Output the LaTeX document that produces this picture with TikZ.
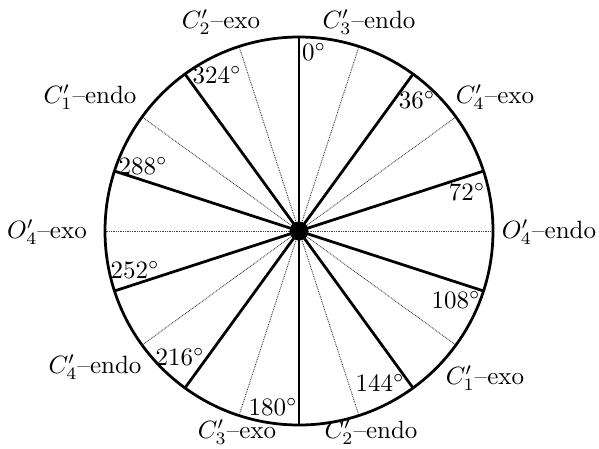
\documentclass[tikz,border=0pt]{standalone}
\begin{document}
\begin{tikzpicture}[x=0.4pt,y=0.4pt,
  spoke/.style={line width=1.1pt},
  rim/.style={line width=1.1pt},
  guide/.style={line width=0.35pt, dash pattern=on 0.35pt off 0.35pt, black!75},
  hub/.style={circle, fill=black, inner sep=0pt, minimum size=7.6pt},
  deg/.style={inner sep=0pt},
  conf/.style={inner sep=0pt}]
\useasboundingbox (-299,-217) rectangle (300,231);
\coordinate (O) at (0,0);
\foreach \a in {18,54,...,342} {
  \coordinate (g\a) at (90-\a:194);
  \draw[guide] (O) -- (g\a);
}
\foreach \a in {0,36,...,324} {
  \coordinate (s\a) at (90-\a:194);
  \draw[spoke] (O) -- (s\a);
}
\draw[rim] (O) circle (194);
\node[hub] (c) at (O) {};
% angle labels
\node[deg] (d0)   at (15,179)   {$0^\circ$};
\node[deg] (d36)  at (118,131)  {$36^\circ$};
\node[deg] (d72)  at (168,39)   {$72^\circ$};
\node[deg] (d108) at (157,-69)  {$108^\circ$};
\node[deg] (d144) at (81,-152)  {$144^\circ$};
\node[deg] (d180) at (-26,-176) {$180^\circ$};
\node[deg] (d216) at (-119,-126){$216^\circ$};
\node[deg] (d252) at (-164,-39) {$252^\circ$};
\node[deg] (d288) at (-156,65)  {$288^\circ$};
\node[deg] (d324) at (-82,156)  {$324^\circ$};
% conformation labels
\node[conf] (l18)  at (70,209)   {$C_3'$--endo};
\node[conf] (l54)  at (196,134)  {$C_4'$--exo};
\node[conf] (l90)  at (250,-1)   {$O_4'$--endo};
\node[conf] (l126) at (186,-147) {$C_1'$--exo};
\node[conf] (l162) at (72,-201)  {$C_2'$--endo};
\node[conf] (l198) at (-62,-201) {$C_3'$--exo};
\node[conf] (l234) at (-204,-136){$C_4'$--endo};
\node[conf] (l270) at (-252,-1)  {$O_4'$--exo};
\node[conf] (l306) at (-209,134) {$C_1'$--endo};
\node[conf] (l342) at (-78,209)  {$C_2'$--exo};
\end{tikzpicture}
\end{document}
